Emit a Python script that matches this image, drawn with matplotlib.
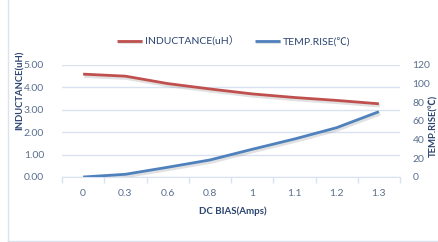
import matplotlib
matplotlib.use("Agg")
import matplotlib.pyplot as plt
import matplotlib.patheffects as pe
import numpy as np

# data
bias = ['0', '0.3', '0.6', '0.8', '1', '1.1', '1.2', '1.3']
inductance = [4.58, 4.49, 4.16, 3.92, 3.70, 3.54, 3.41, 3.26]
temp_rise = [0, 2.9, 10.4, 18.2, 29.6, 40.6, 52.7, 69.8]

red = '#C0504D'
blue = '#4F81BD'
tick_col = '#5A6F8F'
title_col = '#2B4470'
grid_col = '#D9E2F1'

plt.rcParams['font.family'] = ['Lato', 'Noto Sans CJK SC', 'DejaVu Sans']

fig = plt.figure(figsize=(4.38, 2.42), dpi=100)
ax = fig.add_axes([62/438, 1-177/242, (400-62)/438, (177-64.7)/242])
ax2 = ax.twinx()

x = np.arange(len(bias))
shadow = [pe.SimpleLineShadow(offset=(0.8, -1.3), shadow_color='#888888', alpha=0.25, linewidth=2.8), pe.Normal()]
l1, = ax.plot(x, inductance, color=red, lw=2.0, solid_capstyle='butt', path_effects=shadow, zorder=3)
l2, = ax2.plot(x, temp_rise, color=blue, lw=2.0, solid_capstyle='butt', path_effects=shadow, zorder=3)

ax.set_xlim(-0.5, len(bias) - 0.5)
ax.set_ylim(0, 5)
ax2.set_ylim(0, 120)
ax.set_yticks(np.arange(0, 5.01, 1))
ax.set_yticklabels([f'{v:.2f}' for v in np.arange(0, 5.01, 1)])
ax2.set_yticks(np.arange(0, 121, 20))
ax.set_xticks(x)
ax.set_xticklabels(bias)
ax.set_xticks(np.arange(-0.5, len(bias), 1), minor=True)

ax.grid(axis='y', color=grid_col, lw=1)
ax.set_axisbelow(True)
for a in (ax, ax2):
    for s in ['top', 'left', 'right']:
        a.spines[s].set_visible(False)
    a.spines['bottom'].set_color(grid_col)
ax2.spines['bottom'].set_visible(False)

ax.tick_params(axis='x', which='major', length=0, pad=9, labelsize=7.5, labelcolor=tick_col)
ax.tick_params(axis='x', which='minor', length=4, color=grid_col, width=1)
ax.tick_params(axis='y', length=0, pad=13, labelsize=7.5, labelcolor=tick_col)
ax2.tick_params(axis='y', length=0, pad=9, labelsize=7.5, labelcolor=tick_col)

fig.text(233/438, 1-211/242, 'DC BIAS(Amps)', ha='center', va='center', fontsize=7, fontweight='bold', color=title_col)
fig.text(20/438, 1-90/242, 'INDUCTANCE(uH)', ha='center', va='center', rotation=90, fontsize=6.8, fontweight='bold', color=title_col)
fig.text(434/438, 1-126/242, 'TEMP.RISE(℃)', ha='center', va='center', rotation=90, fontsize=6.8, fontweight='bold', color=title_col)

fig.legend([l1, l2], ['INDUCTANCE(uH）', 'TEMP.RISE(℃)'], loc='center', bbox_to_anchor=(234/438, 1-41/242),
           ncol=2, frameon=False, fontsize=7.5, handlelength=2.4, handletextpad=0.3, columnspacing=1.5,
           labelcolor=title_col)

# chart border
fig.add_artist(plt.Line2D([8/438, 8/438], [1/242, 1], color='#DCE3EE', lw=1))
fig.add_artist(plt.Line2D([8/438, 1], [1/242, 1/242], color='#DCE3EE', lw=1))

fig.savefig('out.png', dpi=100)
